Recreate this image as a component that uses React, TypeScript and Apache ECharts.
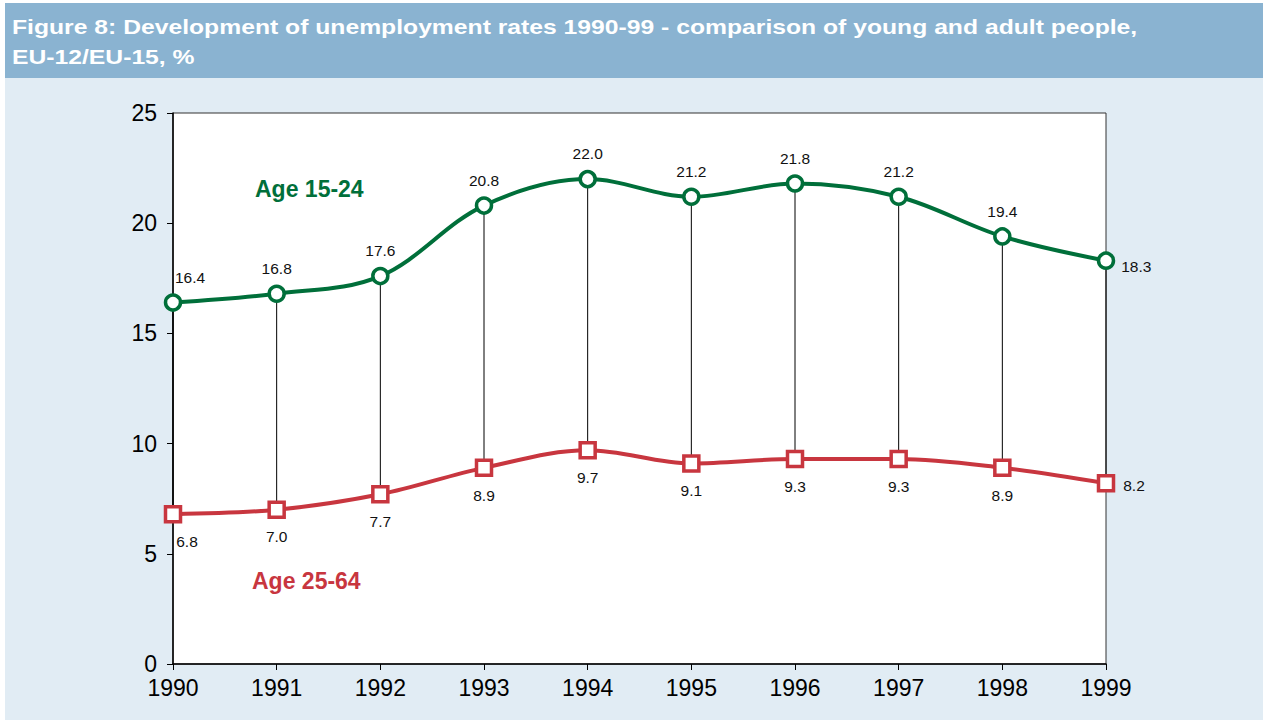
import React, { useEffect, useRef } from "react";
import * as echarts from "echarts";

const years = ["1990", "1991", "1992", "1993", "1994", "1995", "1996", "1997", "1998", "1999"];
const young = [16.4, 16.8, 17.6, 20.8, 22.0, 21.2, 21.8, 21.2, 19.4, 18.3];
const adult = [6.8, 7.0, 7.7, 8.9, 9.7, 9.1, 9.3, 9.3, 8.9, 8.2];
const titleLines = [
  "Figure 8: Development of unemployment rates 1990-99 - comparison of young and adult people,",
  "EU-12/EU-15, %",
];
const youngName = "Age 15-24";
const adultName = "Age 25-64";

const GREEN = "#006f3a";
const RED = "#c8363f";
const FONT = "Liberation Sans, Arial, sans-serif";

export default function App() {
  const ref = useRef<HTMLDivElement>(null);
  useEffect(() => {
    if (!ref.current) return;
    const chart = echarts.init(ref.current, null, { renderer: "svg" });
    const n = years.length;
    const youngData = young.map((v, i) => {
      if (i === 0) return { value: v, label: { position: "top", offset: [17, 0] } };
      if (i === n - 1) return { value: v, label: { position: "right", offset: [-2, 6] } };
      return v;
    });
    const adultData = adult.map((v, i) => {
      if (i === 0) return { value: v, label: { position: "bottom", offset: [14, 0] } };
      if (i === n - 1) return { value: v, label: { position: "right", offset: [-2, 2] } };
      return v;
    });
    chart.setOption({
      animation: false,
      backgroundColor: "#ffffff",
      textStyle: { fontFamily: FONT },
      graphic: [
        { type: "rect", left: 5, top: 3, shape: { width: 1258, height: 75 }, style: { fill: "#8ab3d1" }, z: -10 },
        { type: "rect", left: 5, top: 78, shape: { width: 1258, height: 642 }, style: { fill: "#e1ecf4" }, z: -10 },
        {
          type: "text", x: 12, y: 17, scaleX: 1.235,
          style: { text: titleLines[0], fill: "#ffffff", font: "bold 20px " + FONT },
        },
        {
          type: "text", x: 12, y: 47, scaleX: 1.235,
          style: { text: titleLines[1], fill: "#ffffff", font: "bold 20px " + FONT },
        },
        {
          type: "text", left: 255, top: 177,
          style: { text: youngName, fill: GREEN, font: "bold 23px " + FONT },
        },
        {
          type: "text", left: 252, top: 569,
          style: { text: adultName, fill: RED, font: "bold 23px " + FONT },
        },
      ],
      grid: {
        left: 173, right: 159, top: 113, bottom: 59,
        show: true, backgroundColor: "#ffffff", borderColor: "#333", borderWidth: 1,
      },
      xAxis: {
        type: "category",
        data: years,
        boundaryGap: false,
        axisLine: { lineStyle: { color: "#000", width: 1.5 } },
        axisTick: { show: true, length: 6, lineStyle: { color: "#000" } },
        axisLabel: { color: "#000", fontSize: 23, margin: 12, fontFamily: FONT },
        splitLine: { show: false },
      },
      yAxis: {
        type: "value",
        min: 0, max: 25, interval: 5,
        axisLine: { show: true, lineStyle: { color: "#000", width: 1.5 } },
        axisTick: { show: true, length: 6, lineStyle: { color: "#000" } },
        axisLabel: { color: "#000", fontSize: 23, margin: 16, fontFamily: FONT },
        splitLine: { show: false },
      },
      series: [
        {
          type: "custom",
          z: 1,
          silent: true,
          data: young.map((v, i) => [i, v, adult[i]]),
          renderItem: (params: any, api: any) => {
            const p1 = api.coord([api.value(0), api.value(1)]);
            const p2 = api.coord([api.value(0), api.value(2)]);
            return {
              type: "line",
              shape: { x1: p1[0], y1: p1[1], x2: p2[0], y2: p2[1] },
              style: { stroke: "#000", lineWidth: 1 },
            };
          },
        },
        {
          type: "line",
          name: youngName,
          data: youngData,
          z: 3,
          smooth: 0.35,
          lineStyle: { color: GREEN, width: 4 },
          symbol: "circle",
          symbolSize: 15,
          itemStyle: { color: "#ffffff", borderColor: GREEN, borderWidth: 3.5 },
          label: { show: true, position: "top", distance: 8, color: "#111", fontSize: 15.5, fontFamily: FONT, formatter: (p: any) => Number(p.value).toFixed(1) },
        },
        {
          type: "line",
          name: adultName,
          data: adultData,
          z: 3,
          smooth: 0.35,
          lineStyle: { color: RED, width: 4 },
          symbol: "rect",
          symbolSize: 15,
          itemStyle: { color: "#ffffff", borderColor: RED, borderWidth: 3.5 },
          label: { show: true, position: "bottom", distance: 10, color: "#111", fontSize: 15.5, fontFamily: FONT, formatter: (p: any) => Number(p.value).toFixed(1) },
        },
      ],
    });
    return () => chart.dispose();
  }, []);
  return <div ref={ref} style={{ position: "absolute", left: 0, top: 0, width: 1265, height: 723 }} />;
}
